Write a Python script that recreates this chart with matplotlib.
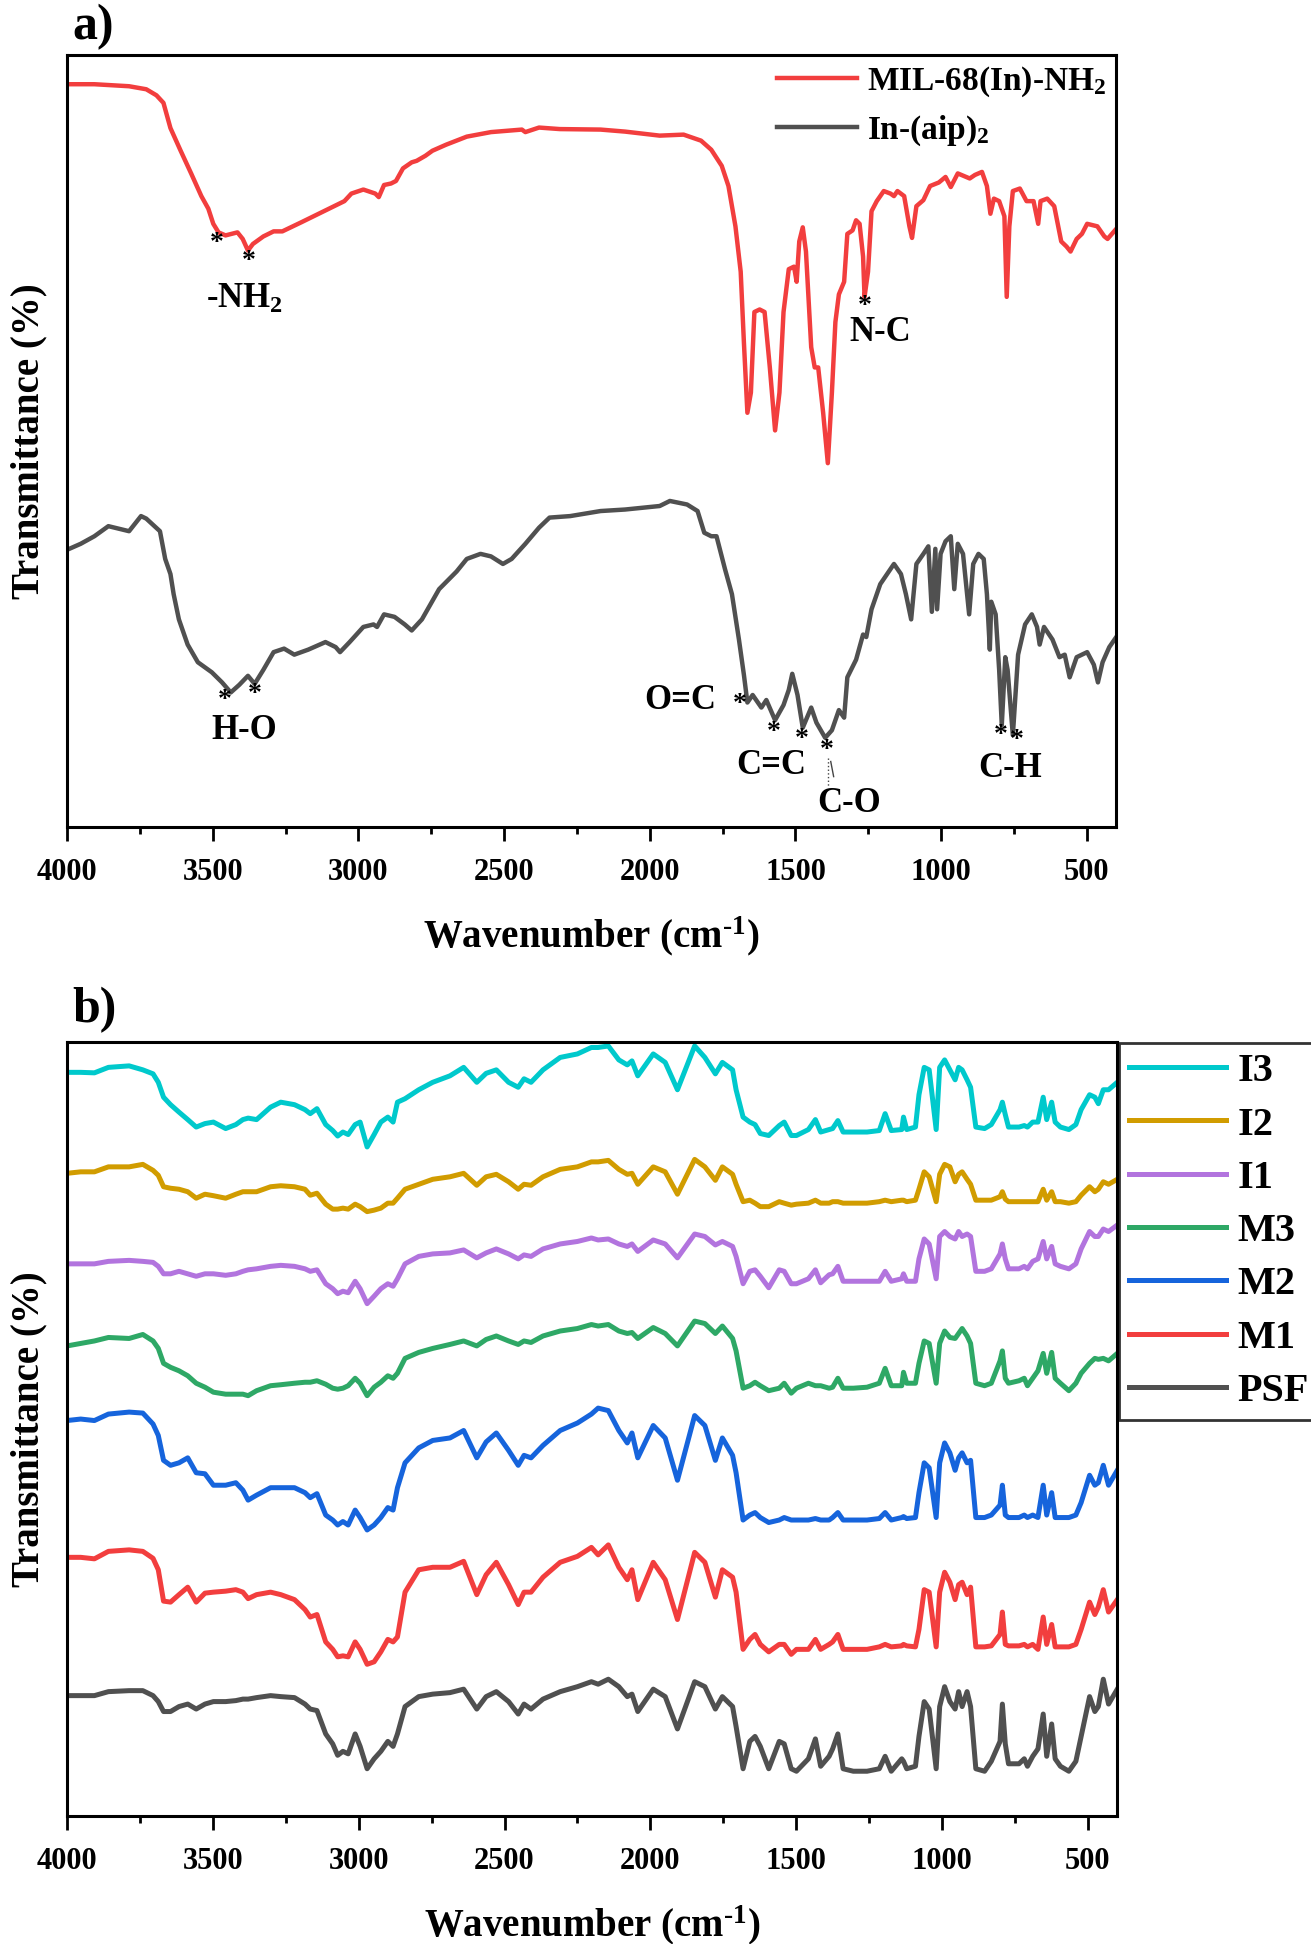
import matplotlib
matplotlib.use('Agg')
import matplotlib.pyplot as plt
from matplotlib.ticker import MultipleLocator

plt.rcParams['font.family'] = 'Liberation Serif'
plt.rcParams['font.weight'] = 'bold'
plt.rcParams['mathtext.default'] = 'regular'

# ---------- panel a data (transmittance, arbitrary units) ----------
mil_wn = [4000, 3906, 3787, 3728, 3693, 3669, 3645, 3610, 3574, 3539, 3515, 3498, 3480, 3456, 3415, 3397,
          3379, 3362, 3326, 3291, 3261, 3196, 3101, 3048, 3024, 2983, 2942, 2930, 2912, 2888, 2871, 2847,
          2817, 2800, 2770, 2746, 2699, 2628, 2545, 2439, 2427, 2380, 2309, 2169,
          2085, 1966, 1884, 1824, 1789, 1753, 1730, 1706, 1688, 1677, 1665, 1653, 1641, 1623, 1606, 1588,
          1570, 1555, 1541, 1523, 1505, 1496, 1487, 1475, 1464, 1446, 1434, 1422, 1405, 1389, 1375, 1363,
          1351, 1333, 1322, 1304, 1292, 1280, 1268, 1263, 1251, 1239, 1221, 1197, 1174, 1162, 1150, 1127,
          1109, 1100, 1085, 1061, 1038, 1008, 985, 967, 943, 902, 884, 860, 843, 831, 819, 801, 783, 775,
          766, 754, 730, 707, 683, 667, 659, 636, 612, 588, 570, 556, 535, 517, 499, 464, 440, 429, 399]
mil_t = [148.2, 148.2, 147.8, 147.2, 146.0, 144.5, 139.5, 135.0, 130.5, 126.0, 123.5, 120.5, 118.8, 118.2,
         118.8, 117.5, 115.2, 116.5, 118.0, 119.0, 119.0, 120.8, 123.5, 125.0, 126.5, 127.3, 126.5, 125.8,
         128.2, 128.5, 129.0, 131.5, 132.7, 133.0, 134.0, 135.0, 136.2, 137.8, 138.7, 139.2, 138.7, 139.6,
         139.3, 139.2,
         138.8, 138.0, 138.2, 137.0, 135.2, 132.0, 128.0, 120.0, 111.0, 97.0, 83.0, 87.0, 103.0, 103.5,
         103.0, 92.0, 79.5, 87.0, 103.0, 111.5, 112.0, 109.0, 117.0, 119.8, 115.0, 96.0, 92.0, 92.0, 83.0,
         73.0, 87.0, 101.0, 106.5, 109.0, 118.5, 119.2, 121.2, 120.5, 114.0, 106.0, 111.0, 123.0, 125.0,
         127.0, 126.5, 126.0, 127.0, 126.0, 120.0, 117.7, 124.0, 125.2, 128.0, 128.7, 129.8, 127.8, 130.5,
         129.5, 130.2, 130.8, 128.0, 122.5, 125.5, 125.0, 122.0, 106.0, 120.0, 127.0, 127.5, 125.0, 125.0,
         120.5, 125.0, 125.5, 124.0, 117.0, 116.0, 115.0, 117.5, 118.5, 120.5, 120.0, 118.0, 117.5, 119.5]

aip_wn = [4000, 3953, 3906, 3858, 3787, 3746, 3728, 3681, 3663, 3645, 3634, 3616, 3586, 3551, 3503, 3468,
          3438, 3409, 3379, 3356, 3326, 3291, 3255, 3220, 3172, 3113, 3078, 3063, 3030, 2983, 2948, 2936,
          2912, 2876, 2841, 2817, 2782, 2723, 2663, 2628, 2581, 2545, 2504, 2474, 2427, 2380, 2344, 2273,
          2169,
          2085, 1966, 1931, 1872, 1836, 1813, 1789, 1771, 1742, 1718, 1694, 1677, 1665, 1647, 1617, 1600,
          1570, 1541, 1523, 1511, 1493, 1475, 1446, 1428, 1398, 1375, 1351, 1333, 1322, 1292, 1268, 1257,
          1239, 1209, 1162, 1138, 1121, 1103, 1085, 1061, 1044, 1032, 1020, 1014, 1002, 985, 967, 955, 943,
          925, 904, 890, 872, 854, 843, 833, 828, 813, 801, 792, 780, 772, 754, 736, 712, 689, 671, 662,
          647, 618, 594, 576, 559, 535, 499, 476, 462, 446, 423, 399]
aip_t = [55.8, 57.0, 58.5, 60.5, 59.5, 62.5, 62.0, 59.5, 54.0, 51.0, 47.0, 42.0, 37.0, 33.5, 31.5, 29.5,
         27.5, 29.0, 30.8, 29.2, 32.0, 35.5, 36.2, 35.0, 36.0, 37.5, 36.5, 35.5, 37.5, 40.5, 41.0, 40.5,
         43.0, 42.5, 41.0, 39.8, 42.0, 48.0, 51.5, 54.0, 55.0, 54.5, 53.0, 54.0, 57.0, 60.2, 62.2, 62.5,
         63.5,
         63.8, 64.5, 65.5, 64.8, 63.5, 59.2, 58.5, 58.5, 52.0, 47.0, 38.0, 31.0, 25.5, 27.0, 24.5, 26.0,
         22.0, 25.0, 28.0, 31.2, 27.0, 20.5, 24.5, 21.5, 18.5, 20.0, 24.0, 22.5, 30.5, 34.0, 39.0, 38.5,
         44.0, 49.0, 53.0, 51.0, 47.0, 42.0, 53.0, 55.0, 56.5, 43.5, 56.0, 44.0, 55.0, 57.5, 58.5, 48.0,
         57.0, 55.0, 43.0, 53.0, 55.0, 54.0, 47.0, 36.0, 45.5, 43.0, 32.0, 21.0, 34.5, 32.0, 19.0, 35.0,
         41.0, 43.0, 40.5, 37.0, 40.5, 38.0, 34.5, 35.0, 30.5, 34.5, 35.5, 33.0, 29.5, 33.5, 36.5, 38.5]

# ---------- panel b data ----------
b_wn = [4000, 3953, 3906, 3858, 3787, 3740, 3705, 3687, 3669, 3645, 3616, 3586, 3557, 3527, 3498, 3456,
        3421, 3397, 3379, 3350, 3302, 3267, 3220, 3184, 3166, 3143, 3113, 3089, 3072, 3054, 3036, 3012,
        2995, 2971, 2947, 2924, 2900, 2882, 2867, 2841, 2794, 2746, 2687, 2640, 2595, 2563, 2528, 2486,
        2453, 2433, 2409, 2368, 2309, 2250, 2202,
        2179, 2144, 2108, 2079, 2063, 2043, 1990, 1949, 1907, 1848, 1813, 1777, 1753, 1718, 1706, 1682,
        1659, 1641, 1623, 1594, 1558, 1541, 1517, 1499, 1458, 1434, 1416, 1387, 1375, 1357, 1339, 1304,
        1257, 1215, 1195, 1174, 1138, 1132, 1121, 1091, 1079, 1061, 1044, 1020, 1008, 991, 973, 955, 943,
        931, 914, 902, 884, 854, 831, 801, 793, 783, 772, 736, 718, 707, 689, 671, 653, 641, 624, 612, 594,
        565, 541, 523, 494, 476, 464, 447, 429, 399]

i3 = [150.5, 150.5, 150.4, 151.5, 151.8, 151, 150.2, 148.5, 145.5, 144, 142.5, 141, 139.5, 140.2, 140.5,
      139.2, 140, 141, 141.3, 141, 143.5, 144.5, 144, 143, 142.2, 143.2, 140, 138.8, 137.7, 138.5, 138,
      140, 140.5, 135.5, 138, 140.5, 141.5, 140.5, 144.5, 145.2, 147, 148.5, 149.8, 151.5, 148.5, 150.3,
      151, 148.5, 147.5, 149.2, 148.5, 151, 153.5, 154.2, 155.5,
      155.5, 155.8, 153, 152, 152.8, 149.8, 154.2, 152.5, 147, 155.8, 153.5, 150.2, 152.5, 151, 147, 141.5,
      140.5, 140, 138.2, 137.8, 139.8, 140.5, 137.8, 137.8, 139, 141, 138.5, 139, 139.2, 140.8, 138.5,
      138.5, 138.5, 138.8, 142.2, 138.8, 139, 141.5, 139, 139.5, 146, 151.5, 151, 139, 151.5, 153, 151,
      149, 151.5, 151, 149, 147.5, 139.5, 139.2, 140, 143, 144.5, 142, 139.5, 139.5, 139.8, 139.5, 140.5,
      140.5, 145.5, 141, 144.5, 140.5, 139.5, 139, 140, 143, 146, 145.5, 144.2, 147, 147, 148.5]
i2 = [130.2, 130.5, 130.5, 131.5, 131.5, 132, 130.8, 129.8, 127.5, 127.2, 127, 126.5, 125.2, 126, 125.7,
      125.2, 126, 126.5, 126.5, 126.5, 127.5, 127.7, 127.5, 127, 125.8, 126.2, 124, 123, 123, 123.2, 123,
      124, 123.5, 122.5, 122.8, 123.2, 124.2, 124.2, 125.2, 127, 128, 129, 129.5, 130.2, 127.8, 129.5, 130,
      128.5, 127, 128, 127.8, 129.5, 131, 131.5, 132.5,
      132.5, 132.8, 131, 130, 130.2, 128, 131.5, 130.5, 126, 133, 131.5, 128.8, 131.5, 130, 128, 124.5,
      124.8, 124.2, 123.5, 123.5, 124.5, 124.2, 123.8, 124, 124.2, 124.8, 124.2, 124.2, 124.5, 124.5,
      124.2, 124.2, 124.2, 124.5, 124.8, 124.5, 124.8, 124.8, 124.5, 124.8, 127, 130.5, 129.5, 124.5, 130,
      132, 131.5, 128.5, 130, 130.5, 129, 128, 124.8, 124.8, 124.8, 125.5, 126.5, 125, 124.5, 124.5, 124.5,
      124.5, 124.5, 124.5, 127, 124.8, 126.5, 124.5, 124.5, 124.2, 124.5, 125.8, 127.5, 126.5, 127, 128.5,
      128, 129]
i1 = [112, 112, 112, 112.5, 112.7, 112.5, 112.3, 111.5, 110, 110, 110.5, 110, 109.5, 110, 110, 109.7, 110,
      110.5, 110.8, 111, 111.5, 111.7, 111.5, 111, 110.5, 110.8, 108, 107, 106, 106.5, 106.2, 108.5, 107,
      104, 105.5, 107, 108, 107.5, 109, 112, 113.5, 114, 114.2, 114.8, 113.2, 114.2, 115, 114, 113, 113.8,
      113.5, 115, 116, 116.5, 117.2,
      116.8, 117, 116, 115.5, 116, 114.5, 116.8, 116, 113.2, 118, 117.5, 115.8, 116.5, 115.5, 113.5, 108,
      110.5, 110.8, 109.5, 107.2, 110.8, 110.5, 108, 108, 109, 110.8, 108.2, 109.8, 110, 111.5, 108.5,
      108.5, 108.5, 108.5, 110.5, 108.5, 109, 110, 108.5, 108.5, 113, 117, 116, 109, 117.5, 118.5, 117.5,
      117, 118.5, 117.5, 118, 117.5, 110.5, 110.5, 111, 114, 116, 113, 111, 111, 111.5, 111, 112.5, 113,
      116.5, 113, 115.5, 112, 111.5, 111, 112, 115, 118.5, 117.5, 117.5, 119, 118.5, 119.8]
m3 = [95.5, 96, 96.5, 97.2, 97, 97.8, 96.5, 95, 92, 91.2, 90.5, 89.5, 88, 87.2, 86.2, 85.8, 85.8, 85.8,
      85.5, 86.5, 87.5, 87.7, 88, 88.2, 88.2, 88.5, 87.8, 87, 86.8, 87, 87.5, 89, 88, 85.5, 87.2, 88.2,
      89.5, 89, 90, 93, 94.2, 95, 95.8, 96.5, 95.5, 96.8, 97.5, 96.5, 95.8, 96.5, 96.2, 97.5, 98.5, 99,
      99.8,
      99.5, 99.8, 98.5, 98, 98.2, 97, 99.2, 98, 95.5, 100.5, 100, 98, 99.5, 97, 94.5, 87, 87.5, 88.2, 87.5,
      86.5, 87, 88, 86, 87, 88, 87.5, 87.5, 87, 87.2, 89, 87, 87, 87.2, 88, 91, 87.5, 87.5, 90.2, 88, 88,
      92, 96.5, 96, 88, 96, 98.5, 97.2, 97, 98, 99, 97.5, 96, 88, 87.5, 88, 92.5, 94.5, 89, 88, 88.5, 89,
      87.5, 89, 90.5, 94, 90, 94.2, 89, 88, 86.5, 88, 90, 92, 93, 92.8, 93, 92.5, 94]
m2 = [80.5, 80.8, 80.5, 81.8, 82.2, 82, 79.8, 77.5, 72.5, 71.5, 72, 73, 70, 69.8, 67.5, 67.5, 68, 66.5,
      64.5, 65.5, 67, 67, 67, 66, 65, 65.8, 61.5, 60.5, 59.5, 60.2, 59.5, 62.5, 61, 58.5, 59.5, 61, 63,
      62.5, 67, 72, 75, 76.5, 77, 78.5, 73, 76.2, 78, 74.5, 71.5, 73.5, 73, 75.5, 78.5, 80, 81.8,
      83, 82.5, 78.5, 76, 78, 73, 79.5, 77, 68.5, 81.5, 79.5, 72.5, 77, 73.5, 70, 60.5, 61.5, 62, 61, 60,
      60.5, 61, 60.5, 60.5, 60.5, 60.8, 60.5, 60.5, 61, 62, 60.5, 60.5, 60.5, 60.8, 62, 60.5, 61, 61.2,
      60.8, 61, 66, 72, 71, 61, 72, 76, 74, 70.5, 73, 74, 72, 72.5, 61, 61, 61.5, 63.5, 67.5, 61.5, 61, 61,
      61.5, 61, 61.5, 61, 67.5, 61.5, 66, 61, 61, 61, 61.5, 64, 69.5, 67.5, 68, 71.5, 67.5, 70.5]
m1 = [53, 53, 52.7, 54.2, 54.5, 54.2, 52.8, 50.5, 44.2, 44, 45.5, 47, 44, 45.8, 46, 46.2, 46.5, 46, 44.7,
      45.5, 46, 45.5, 44.5, 42.5, 41, 41.5, 36, 34.5, 33, 33.2, 33, 36, 34.5, 31.5, 32, 34, 36.5, 36, 37,
      46, 50.5, 51, 51, 52.2, 45.5, 49.5, 52, 47.5, 43.5, 46, 46, 49, 52, 53.2, 55,
      53.5, 55.5, 51, 48.5, 50.5, 44.5, 52, 48.5, 40.5, 54, 52, 45, 50.5, 49, 46, 34.5, 36.5, 37.5, 35.5,
      34, 35.5, 35.5, 33.5, 34.5, 34.5, 36.5, 34.5, 35.5, 36, 37.5, 34.5, 34.5, 34.5, 35, 35.5, 35, 35.2,
      35.5, 35.2, 35, 38.5, 46.5, 46, 35, 46, 50, 48, 44.5, 47.5, 48, 45.5, 47, 35, 35, 35.2, 37.5, 42,
      35.5, 35.2, 35.2, 35.5, 35, 35.5, 34.5, 41, 35.5, 39.5, 35, 35, 35, 35.5, 38.5, 44, 41.5, 43, 46.5,
      42, 44.5]
psf = [25.2, 25.2, 25.2, 26, 26.2, 26.2, 25.2, 24, 22, 22, 23, 23.5, 22.5, 23.5, 24, 24, 24.2, 24.5, 24.5,
       24.8, 25.2, 25, 24.8, 23.5, 22.5, 22.2, 17.5, 15.5, 13.2, 14, 13.5, 17.5, 15, 10.5, 12.5, 14, 16, 15,
       17.5, 23, 25, 25.5, 25.8, 26.5, 22.5, 25, 26, 24, 21.5, 23.5, 22.5, 24.5, 26, 27, 28,
       27.5, 28.5, 27, 25, 25.5, 22, 26.5, 25, 18.5, 28, 27, 22.5, 25, 23, 19, 10.5, 16, 17, 15, 10.5, 16,
       15.5, 10.5, 10, 12.5, 16.5, 11, 13, 14.5, 17.5, 10.5, 10, 10, 10.5, 13, 10, 12.5, 12, 10.5, 11, 17,
       24, 22.5, 10.5, 23, 27, 24, 22.5, 26, 23, 26, 23, 10.5, 10, 12, 16, 23.5, 15.5, 11.5, 11.5, 12.5, 11,
       13, 14.5, 21.5, 13, 19.5, 12.5, 11, 10, 12, 17, 25, 22, 23, 28.5, 23.5, 26.5]

b_names = ['I3', 'I2', 'I1', 'M3', 'M2', 'M1', 'PSF']
b_series = [i3, i2, i1, m3, m2, m1, psf]
b_colors = ['#00C9CC', '#D19C00', '#B274DE', '#2EA866', '#1664DC', '#F23E3E', '#505050']

W, H = 1311, 1944
fig = plt.figure(figsize=(W / 100, H / 100), dpi=100)
ax1 = fig.add_axes([67 / W, 1 - 827 / H, (1116 - 67) / W, (827 - 55) / H])
ax2 = fig.add_axes([67 / W, 1 - 1816 / H, (1117 - 67) / W, (1816 - 1042) / H])

for ax in (ax1, ax2):
    ax.set_xlim(4000, 400)
    ax.xaxis.set_major_locator(MultipleLocator(500))
    ax.xaxis.set_minor_locator(MultipleLocator(250))
    ax.set_yticks([])
    ax.tick_params(axis='x', which='major', direction='out', length=10, width=2, labelsize=22, pad=12)
    ax.tick_params(axis='x', which='minor', direction='out', length=5, width=2)
    for s in ax.spines.values():
        s.set_linewidth(2.2)
    ax.set_xlabel('Wavenumber (cm$^{\u20101}$)', fontsize=28, fontweight='bold', labelpad=20)
    ax.set_ylabel('Transmittance (%)', fontsize=28, fontweight='bold', labelpad=14)
    for lab in ax.get_xticklabels():
        lab.set_fontweight('bold')

# panel a
ax1.set_ylim(0.8, 154.0)
ax1.plot(mil_wn, mil_t, color='#F23E3E', lw=3.2, label='MIL-68(In)-NH$_2$')
ax1.plot(aip_wn, aip_t, color='#505050', lw=3.2, label='In-(aip)$_2$')
ax1.legend(loc='upper right', bbox_to_anchor=(1.01, 1.014), frameon=False,
           handlelength=2.4, handletextpad=0.3, labelspacing=0.45, borderaxespad=0.2,
           prop={'weight': 'bold', 'size': 24})

star = dict(fontsize=20, ha='center', va='center')
lab = dict(fontsize=25, fontweight='bold', ha='center', va='center')
ax1.text(3486, 116.5, '*', **star)
ax1.text(3376, 113.0, '*', **star)
ax1.text(3391, 105.5, '-NH$_2$', **lab)
ax1.text(3458, 26.0, '*', **star)
ax1.text(3356, 27.0, '*', **star)
ax1.text(3391, 20.0, 'H-O', **lab)
ax1.text(1263, 104.0, '*', **star)
ax1.text(1209, 99.0, 'N-C', **lab)
ax1.text(1692, 25.2, '*', **star)
ax1.text(1895, 26.0, 'O=C', **lab)
ax1.text(1576, 19.5, '*', **star)
ax1.text(1479, 18.2, '*', **star)
ax1.text(1582, 13.0, 'C=C', **lab)
ax1.text(1393, 16.0, '*', **star)
ax1.plot([1389, 1389], [14.5, 9.0], color='#444444', lw=1, ls=':')
ax1.plot([1379, 1369], [13.8, 10.8], color='#444444', lw=1)
ax1.text(1316, 5.5, 'C-O', **lab)
ax1.text(795, 19.0, '*', **star)
ax1.text(742, 18.0, '*', **star)
ax1.text(762, 12.5, 'C-H', **lab)

fig.text(72 / W, 1 - 27 / H, 'a)', fontsize=36, fontweight='bold', ha='left', va='center')
fig.text(72 / W, 1 - 1010 / H, 'b)', fontsize=36, fontweight='bold', ha='left', va='center')

# panel b
ax2.set_ylim(1.0, 156.6)
for name, vals, c in zip(b_names, b_series, b_colors):
    ax2.plot(b_wn, vals, color=c, lw=3.6, label=name)
leg = ax2.legend(loc='upper left', bbox_to_anchor=(1119 / W, 1 - 1043 / H), bbox_transform=fig.transFigure,
                 borderaxespad=0, fancybox=False, edgecolor='black', handlelength=2.4, handletextpad=0.3,
                 labelspacing=0.40, borderpad=0.25, prop={'weight': 'bold', 'size': 29})
leg.get_frame().set_linewidth(2)

fig.savefig('out.png', dpi=100)
